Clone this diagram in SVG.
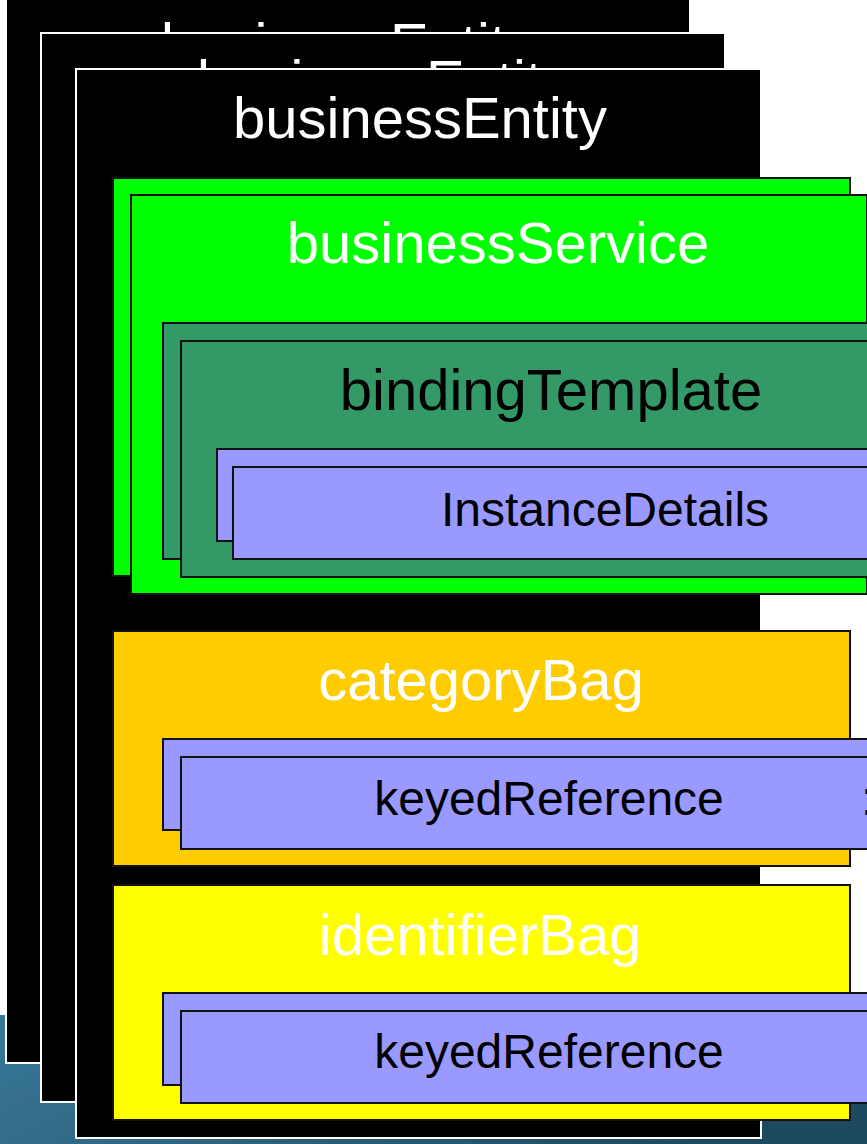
<svg xmlns="http://www.w3.org/2000/svg" width="867" height="1144" viewBox="0 0 867 1144">
  <defs>
    <linearGradient id="bg" x1="0" y1="0" x2="1" y2="0.3">
      <stop offset="0" stop-color="#3a7898"/>
      <stop offset="0.5" stop-color="#2c6480"/>
      <stop offset="1" stop-color="#1d4a5e"/>
    </linearGradient>
    <style>
      .ent { fill: #000; stroke: #fff; stroke-width: 2; }
      .box { stroke: #111; stroke-width: 2; }
      .svc { fill: #00ff00; }
      .bt { fill: #339966; }
      .lav { fill: #9999ff; }
      .cat { fill: #ffcc00; }
      .idb { fill: #ffff00; }
      text { font-family: "Liberation Sans", Arial, sans-serif; text-anchor: middle; }
      .big { font-size: 58px; }
      .mid { font-size: 48px; }
      .w { fill: #fff; }
      .k { fill: #000; }
    </style>
  </defs>
  <rect x="0" y="0" width="867" height="1144" fill="#fff"/>
  <rect x="0" y="1015" width="867" height="129" fill="url(#bg)"/>

  <g id="businessEntity-1">
    <rect class="ent" x="6" y="-3" width="684" height="1066"/>
    <text class="big w" x="348" y="64">businessEntity</text>
  </g>
  <g id="businessEntity-2">
    <rect class="ent" x="41" y="33" width="684" height="1069"/>
    <text class="big w" x="384" y="101">businessEntity</text>
  </g>
  <g id="businessEntity-3">
    <rect class="ent" x="76" y="69" width="685" height="1069"/>
    <text class="big w" x="420" y="138">businessEntity</text>
  </g>

  <g id="businessService">
    <rect class="box svc" x="113" y="178" width="737" height="398"/>
    <rect class="box svc" x="131" y="195" width="736" height="399"/>
    <text class="big w" x="498" y="263">businessService</text>
  </g>

  <g id="bindingTemplate">
    <rect class="box bt" x="163" y="323" width="706" height="236"/>
    <rect class="box bt" x="181" y="341" width="700" height="236"/>
    <text class="big k" x="551" y="410">bindingTemplate</text>
  </g>

  <g id="InstanceDetails">
    <rect class="box lav" x="217" y="449" width="660" height="92"/>
    <rect class="box lav" x="233" y="467" width="644" height="92"/>
    <text class="mid k" x="605" y="526">InstanceDetails</text>
  </g>

  <g id="categoryBag">
    <rect class="box cat" x="113" y="631" width="737" height="235"/>
    <text class="big w" x="481" y="700">categoryBag</text>
  </g>

  <g id="keyedReference-1">
    <rect class="box lav" x="163" y="739" width="714" height="91"/>
    <rect class="box lav" x="181" y="757" width="696" height="92"/>
    <text class="mid k" x="549" y="815">keyedReference</text>
    <text class="mid k" x="861" y="815" style="text-anchor:start">:</text>
  </g>

  <g id="identifierBag">
    <rect class="box idb" x="113" y="885" width="737" height="235"/>
    <text class="big w" x="480" y="955">identifierBag</text>
  </g>

  <g id="keyedReference-2">
    <rect class="box lav" x="163" y="993" width="714" height="92"/>
    <rect class="box lav" x="181" y="1011" width="696" height="92"/>
    <text class="mid k" x="549" y="1068">keyedReference</text>
  </g>

  <g id="connectors"/>
</svg>
